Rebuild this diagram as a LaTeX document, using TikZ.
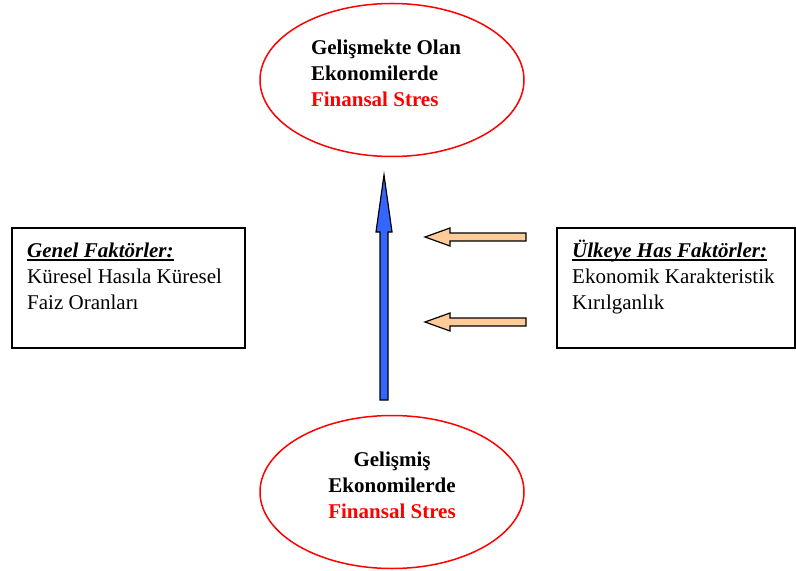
\documentclass[tikz,border=0pt]{standalone}
\usepackage{fontspec}
\setmainfont{Liberation Serif}
\usetikzlibrary{shapes.geometric}

\definecolor{stressred}{RGB}{255,0,0}
\definecolor{arrowblue}{RGB}{51,102,255}
\definecolor{arrowpeach}{RGB}{255,204,153}

% underlined heading with the rule at a fixed depth
\newlength{\headwd}
\newcommand{\factorhead}[1]{\settowidth{\headwd}{#1}%
  \rlap{\rule[-3.5bp]{\headwd}{1.4bp}}#1}

\tikzset{
  stressoval/.style={ellipse, draw=stressred, line width=1.5bp,
    minimum width=264bp, minimum height=153bp, inner sep=0pt},
  stresstext/.style={font=\fontsize{21bp}{26bp}\selectfont\bfseries, inner sep=0pt},
  factorbox/.style={draw, line width=1.6bp, inner sep=0pt},
  factortext/.style={font=\fontsize{21bp}{26bp}\selectfont, align=left,
    inner sep=0pt, anchor=base west},
  risearrow/.style={fill=arrowblue, draw=black, line width=1.2bp},
  sidearrow/.style={fill=arrowpeach, draw=black, line width=1.2bp},
}

\begin{document}
\begin{tikzpicture}[x=1bp,y=-1bp]
  \useasboundingbox (0,0) rectangle (796,571);

  % stress ellipses
  \node[stressoval] (emerging) at (392,80) {};
  \node[stressoval] (advanced) at (392,492) {};
  \node[stresstext, align=left] (emergingtxt) at (386,73)
    {Gelişmekte Olan\\Ekonomilerde\\\textcolor{stressred}{Finansal Stres}};
  \node[stresstext, align=center] (advancedtxt) at (392,485)
    {Gelişmiş\\Ekonomilerde\\\textcolor{stressred}{Finansal Stres}};

  % factor boxes (text anchored on its last baseline)
  \node[factorbox, minimum width=233bp, minimum height=120bp] (general) at (128.5,288) {};
  \node[factorbox, minimum width=238bp, minimum height=120bp] (country) at (676,288) {};
  \node[factortext] (generaltxt) at (27,309)
    {\textbf{\textit{\factorhead{Genel Faktörler:}}}\\Küresel Hasıla Küresel\\Faiz Oranları};
  \node[factortext] (countrytxt) at (572,309)
    {\textbf{\textit{\factorhead{Ülkeye Has Faktörler:}}}\\Ekonomik Karakteristik\\Kırılganlık};

  % block arrows
  \draw[risearrow] (380,400) -- (380,232) -- (376,232) -- (384,175)
    -- (392,232) -- (388,232) -- (388,400) -- cycle;
  \foreach \y in {237,322}
    \draw[sidearrow] (526,\y-4) -- (450,\y-4) -- (450,\y-9) -- (425,\y)
      -- (450,\y+9) -- (450,\y+4) -- (526,\y+4) -- cycle;
\end{tikzpicture}
\end{document}
